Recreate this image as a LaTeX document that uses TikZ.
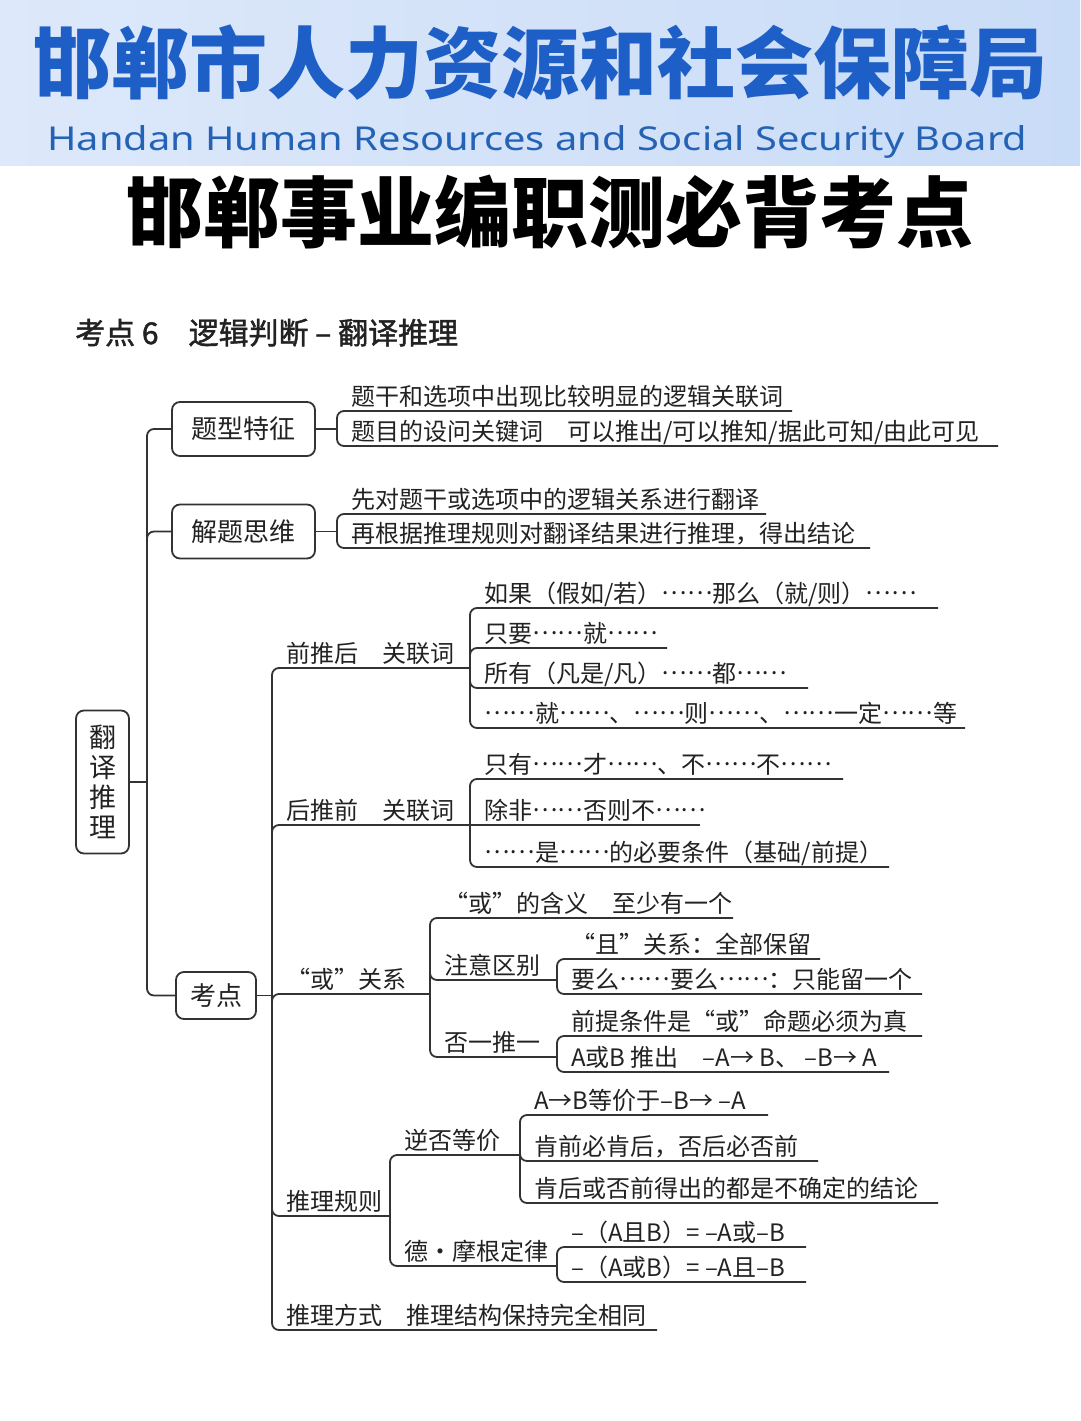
\documentclass[tikz,border=0pt]{standalone}
\usepackage{fontspec}
\usetikzlibrary{calc}
\setmainfont{Noto Sans CJK SC}
\newfontfamily\engfont{Noto Sans}
\definecolor{lc}{HTML}{333333}
\definecolor{tc}{HTML}{222222}
\definecolor{bannerL}{HTML}{DDE8FA}
\definecolor{bannerR}{HTML}{C9DCF7}
\definecolor{callblue}{HTML}{1D5FC6}
\definecolor{engblue}{HTML}{2462B5}
\newcommand\dts{\raisebox{0.3em}{……}}
\tikzset{
  conn/.style={draw=lc, line width=1.8pt, rounded corners=7pt},
  box/.style={draw=lc, line width=1.8pt, rounded corners=8pt, inner sep=0pt, text=tc, fill=white},
  leaf/.style={inner sep=0pt, anchor=base west, text=tc, font=\fontsize{24}{28}\selectfont},
}
% \leafitem{name}{xb}{y}{xe}{stub}{text}
\newcommand\leafitem[6]{%
  \coordinate (#1-s) at (#2,#3);
  \coordinate (#1-e) at (#4,#3);
  \node[leaf] (#1) at ($(#1-s)+(14,-6)$) {#6};
  \draw[conn] ($(#1-s)+(0,#5)$) -- (#1-s) -- (#1-e);
}
\newcommand\leafstraight[5]{%
  \coordinate (#1-s) at (#2,#3);
  \coordinate (#1-e) at (#4,#3);
  \node[leaf] (#1) at ($(#1-s)+(14,-6)$) {#5};
  \draw[conn] (#1-s) -- (#1-e);
}
\newcommand\bracketline[2]{%
  \draw[conn] ($(#1-s)+(0,7)$) -- ($(#2-s)+(0,-7)$);
}
\begin{document}
\begin{tikzpicture}[x=1pt,y=-1pt]
\useasboundingbox (0,0) rectangle (1080,1421);
\fill[white] (0,0) rectangle (1080,1421);
% banner
\shade[left color=bannerL, right color=bannerR] (0,0) rectangle (1080,165);
\node[inner sep=0pt, text=callblue, font=\fontsize{78}{80}\selectfont\bfseries] (bn) at (540,63) {邯郸市人力资源和社会保障局};
\node[inner sep=0pt, anchor=base west, text=engblue] (en) at (47,150) {\resizebox{980pt}{25pt}{\engfont Handan Human Resources and Social Security Board}};
% title
\node[inner sep=0pt, text=black, font=\fontsize{77}{80}\selectfont\bfseries] (title) at (550,212) {邯郸事业编职测必背考点};
\node[inner sep=0pt, anchor=base west, text=tc, font=\fontsize{30}{34}\selectfont\addfontfeature{FakeBold=1.5}] (sec) at (75,344) {考点 6　逻辑判断 – 翻译推理};
% boxes
\node[box, minimum width=53, minimum height=143, font=\fontsize{27}{30}\selectfont, align=center] (root) at (102.5,782) {翻\\译\\推\\理};
\node[box, minimum width=143, minimum height=54, font=\fontsize{26}{30}\selectfont] (b1) at (243.5,429) {题型特征};
\node[box, minimum width=143, minimum height=54, font=\fontsize{26}{30}\selectfont] (b2) at (243.5,531.5) {解题思维};
\node[box, minimum width=80, minimum height=47, font=\fontsize{26}{30}\selectfont] (b3) at (216,995.5) {考点};
% main trunk
\coordinate (tk) at (147,782);
\draw[conn] (b1.west) -- (b1.west -| tk) -- (b3.west -| tk) -- (b3.west);
\draw[conn] ($(b2.west -| tk)+(0,14)$) -- (b2.west -| tk) -- (b2.west);
\draw[conn] (root.east) -- (tk);
% 题型特征
\leafitem{t1}{337}{411}{792}{14}{题干和选项中出现比较明显的逻辑关联词}
\leafitem{t2}{337}{446}{998}{-14}{题目的设问关键词　可以推出/可以推知/据此可知/由此可见}
\bracketline{t1}{t2}
\draw[conn] (b1.east) -- (t1-s |- b1.east);
% 解题思维
\leafitem{s1}{337}{514}{766}{14}{先对题干或选项中的逻辑关系进行翻译}
\leafitem{s2}{337}{548}{870}{-14}{再根据推理规则对翻译结果进行推理，得出结论}
\bracketline{s1}{s2}
\draw[conn] (b2.east) -- (s1-s |- b2.east);
% 考点
\leafitem{p1}{272}{668}{470}{14}{前推后　关联词}
\leafitem{q1}{470}{608}{938}{14}{如果（假如/若）\dts 那么（就/则）\dts}
\leafitem{q2}{470}{648}{667}{14}{只要\dts 就\dts}
\leafitem{q3}{470}{688}{808}{-14}{所有（凡是/凡）\dts 都\dts}
\leafitem{q4}{470}{728}{965}{-14}{\dts 就\dts 、\dts 则\dts 、\dts 一定\dts 等}
\bracketline{q1}{q4}
\leafitem{p2}{272}{825}{470}{14}{后推前　关联词}
\leafitem{r1}{470}{779}{843}{14}{只有\dts 才\dts 、不\dts 不\dts}
\leafstraight{r2}{470}{825}{700}{除非\dts 否则不\dts}
\leafitem{r3}{470}{867}{889}{-14}{\dts 是\dts 的必要条件（基础/前提）}
\bracketline{r1}{r3}
\leafitem{p3}{272}{994}{430}{14}{“或”关系}
\leafitem{o1}{430}{918}{733}{14}{“或”的含义　至少有一个}
\leafitem{o2}{430}{980}{557}{-14}{注意区别}
\leafitem{o21}{557}{959}{820}{14}{“且”关系：全部保留}
\leafitem{o22}{557}{994}{922}{-14}{要么\dts 要么\dts ：只能留一个}
\bracketline{o21}{o22}
\leafitem{o3}{430}{1057}{557}{-14}{否一推一}
\leafitem{o31}{557}{1036}{922}{14}{前提条件是“或”命题必须为真}
\leafitem{o32}{557}{1072}{889}{-14}{A或B 推出　–A→ B、 –B→ A}
\bracketline{o31}{o32}
\bracketline{o1}{o3}
\leafitem{p4}{272}{1216}{390}{-14}{推理规则}
\leafitem{u1}{390}{1155}{520}{14}{逆否等价}
\leafitem{u11}{520}{1115}{768}{14}{A→B等价于–B→ –A}
\leafitem{u12}{520}{1161}{818}{-14}{肯前必肯后，否后必否前}
\leafitem{u13}{520}{1203}{938}{-14}{肯后或否前得出的都是不确定的结论}
\bracketline{u11}{u13}
\leafitem{u2}{390}{1266}{557}{-14}{德·摩根定律}
\leafitem{u21}{557}{1247}{806}{14}{–（A且B）= –A或–B}
\leafitem{u22}{557}{1282}{806}{-14}{–（A或B）= –A且–B}
\bracketline{u21}{u22}
\bracketline{u1}{u2}
\leafitem{p5}{272}{1330}{657}{-14}{推理方式　推理结构保持完全相同}
\bracketline{p1}{p5}
\draw[conn] (b3.east) -- (p1-s |- b3.east);
\end{tikzpicture}
\end{document}
